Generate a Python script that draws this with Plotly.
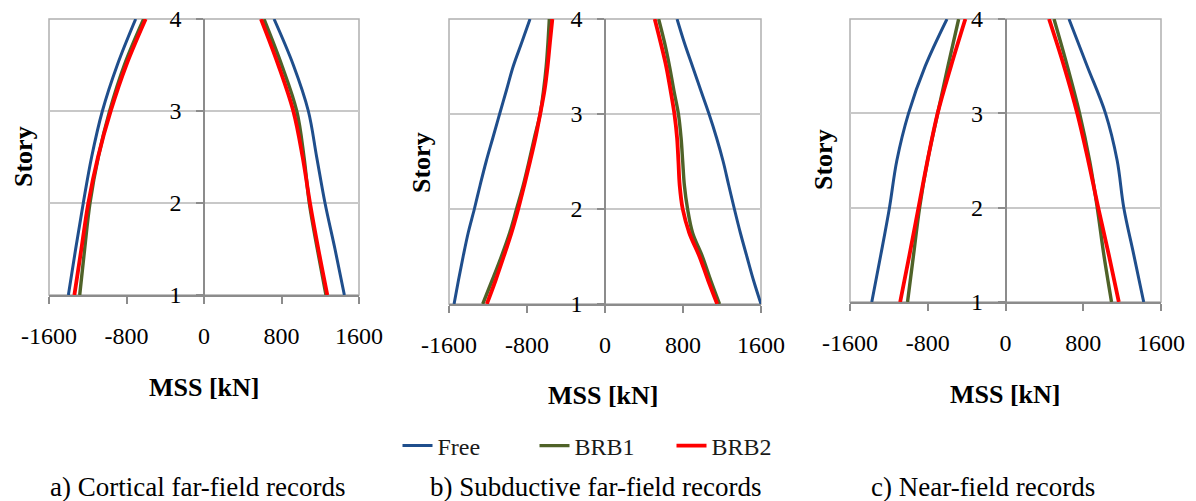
import plotly.graph_objects as go

# ---------------- data ----------------
stories = [1, 1.5, 2, 2.5, 3, 3.5, 4]
stories_b = [1, 1.25, 1.5, 1.75, 2, 2.25, 2.5, 2.75, 3, 3.25, 3.5, 3.75, 4]
series_names = ["Free", "BRB1", "BRB2"]
series_colors = ["#1F4E8C", "#4F6228", "#FF0000"]
x_tickvals = [-1600, -800, 0, 800, 1600]
x_ticktext = ["-1600", "-800", "0", "800", "1600"]
y_tickvals = [1, 2, 3, 4]
y_ticktext = ["1", "2", "3", "4"]
captions = ["a) Cortical far-field records", "b) Subductive far-field records", "c) Near-field records"]

# Panel a) Cortical far-field records (negative / positive branches), at `stories`
a_free_neg = [-1400, -1325, -1246, -1160, -1049, -895, -705]
a_free_pos = [1449, 1352, 1249, 1163, 1077, 922, 723]
a_brb1_neg = [-1283, -1232, -1177, -1091, -974, -822, -623]
a_brb1_pos = [1259, 1170, 1087, 1032, 957, 802, 619]
a_brb2_neg = [-1338, -1266, -1194, -1094, -963, -802, -602]
a_brb2_pos = [1273, 1180, 1094, 1018, 922, 767, 588]

# Panel b) Subductive far-field records, at `stories_b`
b_free_neg = [-1548, -1503, -1455, -1403, -1340, -1281, -1219, -1150, -1081, -1011, -942, -855, -769]
b_free_pos = [1600, 1523, 1455, 1388, 1327, 1269, 1212, 1144, 1067, 982, 898, 814, 739]
b_brb1_neg = [-1254, -1157, -1063, -977, -907, -838, -779, -724, -665, -630, -603, -585, -571]
b_brb1_pos = [1175, 1084, 999, 898, 847, 814, 797, 780, 753, 706, 662, 611, 550]
b_brb2_neg = [-1212, -1122, -1039, -959, -890, -828, -769, -713, -665, -620, -589, -565, -540]
b_brb2_pos = [1151, 1057, 969, 864, 797, 766, 753, 739, 712, 672, 628, 571, 510]

# Panel c) Near-field records, at `stories`
c_free_neg = [-1376, -1283, -1194, -1118, -998, -826, -602]
c_free_pos = [1422, 1320, 1217, 1149, 1029, 841, 653]
c_brb1_neg = [-1008, -946, -884, -802, -698, -592, -482]
c_brb1_pos = [1091, 1012, 944, 865, 762, 636, 499]
c_brb2_neg = [-1084, -988, -895, -802, -698, -561, -413]
c_brb2_pos = [1166, 1063, 954, 851, 738, 602, 448]

panels = [
    (stories, [(a_free_neg, a_free_pos), (a_brb1_neg, a_brb1_pos), (a_brb2_neg, a_brb2_pos)]),
    (stories_b, [(b_free_neg, b_free_pos), (b_brb1_neg, b_brb1_pos), (b_brb2_neg, b_brb2_pos)]),
    (stories, [(c_free_neg, c_free_pos), (c_brb1_neg, c_brb1_pos), (c_brb2_neg, c_brb2_pos)]),
]

# ---------------- layout geometry (pixels) ----------------
W, H = 1196, 501
FONT = "Liberation Serif"
px_x = [(49, 359), (449, 761), (850, 1161)]
px_y = [(19, 295), (19, 304), (19, 302)]
title_pos = [(204, 387), (603, 395), (1005, 394)]
story_pos = [(23, 157), (422, 163), (823, 160)]
caption_pos = [(198, 487), (596, 487), (983, 487)]
line_widths = [3.0, 3.4, 3.8]


def fx(p):
    return p / W


def fy(p):
    return 1 - p / H


fig = go.Figure()

for i, (ys, panel) in enumerate(panels):
    xa = "x" if i == 0 else f"x{i+1}"
    ya = "y" if i == 0 else f"y{i+1}"
    for j, (neg, pos) in enumerate(panel):
        fig.add_trace(go.Scatter(
            x=list(neg) + [None] + list(pos),
            y=list(ys) + [None] + list(ys),
            mode="lines",
            line=dict(color=series_colors[j], width=line_widths[j], shape="spline", smoothing=1.0),
            name=series_names[j],
            showlegend=(i == 0),
            connectgaps=False,
            xaxis=xa, yaxis=ya,
            hoverinfo="skip",
        ))

layout = dict(
    width=W, height=H,
    margin=dict(l=0, r=0, t=0, b=0, pad=0, autoexpand=False),
    paper_bgcolor="white", plot_bgcolor="white",
    font=dict(family=FONT, color="black", size=24),
    legend=dict(
        orientation="h", x=fx(603), xanchor="center", y=fy(446), yanchor="middle",
        font=dict(family=FONT, size=24, color="#1a1a1a"),
        entrywidth=92, entrywidthmode="pixels",
        itemwidth=30, bgcolor="rgba(0,0,0,0)",
    ),
    shapes=[], annotations=[],
)

for i in range(3):
    xk = "xaxis" if i == 0 else f"xaxis{i+1}"
    yk = "yaxis" if i == 0 else f"yaxis{i+1}"
    xa = "x" if i == 0 else f"x{i+1}"
    ya = "y" if i == 0 else f"y{i+1}"
    x0, x1 = fx(px_x[i][0]), fx(px_x[i][1])
    y0, y1 = fy(px_y[i][1]), fy(px_y[i][0])
    layout[xk] = dict(
        domain=[x0, x1], anchor=ya, range=[-1600, 1600],
        tickvals=x_tickvals, ticktext=x_ticktext,
        ticks="outside", ticklen=7, tickwidth=1.5, tickcolor="#8c8c8c",
        showline=True, linecolor="#8c8c8c", linewidth=1.5,
        showgrid=False, zeroline=False, automargin=False,
        tickfont=dict(family=FONT, size=24, color="black"),
        ticklabelstandoff=11,
        fixedrange=True,
    )
    layout[yk] = dict(
        domain=[y0, y1], anchor="free", position=(x0 + x1) / 2,
        range=[1, 4], tickvals=y_tickvals, ticktext=y_ticktext,
        ticks="outside", ticklen=7, tickwidth=1.5, tickcolor="#8c8c8c",
        showline=True, linecolor="#8c8c8c", linewidth=1.5,
        showgrid=True, gridcolor="#c8c8c8", gridwidth=1.5, zeroline=False,
        automargin=False,
        tickfont=dict(family=FONT, size=24, color="black"),
        ticklabelstandoff=10,
        fixedrange=True,
    )
    layout["shapes"].append(dict(
        type="rect", xref=f"{xa} domain", yref=f"{ya} domain",
        x0=0, x1=1, y0=0, y1=1, line=dict(color="#b0b0b0", width=1.5),
        layer="below",
    ))
    tx, ty = title_pos[i]
    layout["annotations"].append(dict(
        text="<b>MSS [kN]</b>", x=fx(tx), y=fy(ty), xref="paper", yref="paper",
        showarrow=False, xanchor="center", yanchor="middle",
        font=dict(family=FONT, size=26, color="black"),
    ))
    sx, sy = story_pos[i]
    layout["annotations"].append(dict(
        text="<b>Story</b>", x=fx(sx), y=fy(sy), xref="paper", yref="paper",
        showarrow=False, xanchor="center", yanchor="middle", textangle=-90,
        font=dict(family=FONT, size=26, color="black"),
    ))
    cx, cy = caption_pos[i]
    layout["annotations"].append(dict(
        text=captions[i], x=fx(cx), y=fy(cy), xref="paper", yref="paper",
        showarrow=False, xanchor="center", yanchor="middle",
        font=dict(family=FONT, size=27, color="black"),
    ))

fig.update_layout(**layout)
fig.write_html(
    "out.html",
    config={"responsive": False, "displayModeBar": False},
    post_script="document.body.style.margin='0';document.body.style.padding='0';document.body.style.overflow='hidden';",
)
